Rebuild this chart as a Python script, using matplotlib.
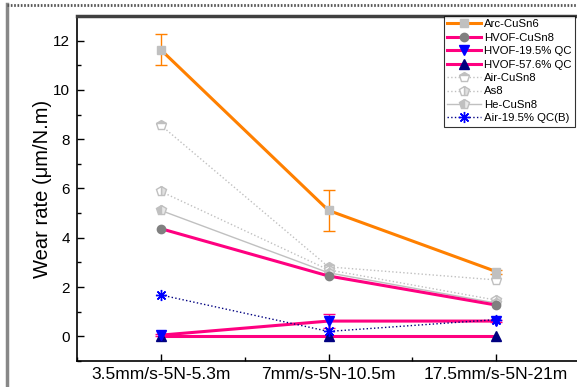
import matplotlib
matplotlib.use("Agg")
from matplotlib import pyplot as plt
from matplotlib.lines import Line2D
from matplotlib.ticker import MultipleLocator
import numpy as np

plt.rcParams['font.family'] = ['Liberation Sans', 'DejaVu Sans']

conditions = ["3.5mm/s-5N-5.3m", "7mm/s-5N-10.5m", "17.5mm/s-5N-21m"]

arc_cusn6 = [11.63, 5.11, 2.63]
arc_cusn6_err = [0.62, 0.82, 0.08]
hvof_cusn8 = [4.37, 2.45, 1.27]
hvof_qc195 = [0.05, 0.62, 0.62]
hvof_qc195_err = [0.05, 0.27, 0.05]
hvof_qc576 = [0.0, 0.0, 0.0]
air_cusn8 = [8.57, 2.82, 2.29]
as8 = [5.88, 2.7, 1.47]
he_cusn8 = [5.11, 2.58, 1.35]
air_qc195b = [1.68, 0.2, 0.68]

orange = '#FF8000'
pink = '#FF0080'
grey = '#C0C0C0'

fig = plt.figure(figsize=(5.77, 3.87), dpi=100)
ax = fig.add_axes([77/577, 26/387, 503/577, 345/387])
x = np.arange(len(conditions))

handles = []
eb = ax.errorbar(x, arc_cusn6, yerr=arc_cusn6_err, color=orange, lw=2.2, ecolor=orange,
                 elinewidth=1, capsize=4, marker='s', ms=6, mfc=grey, mec=grey, zorder=5)
handles.append((eb[0], "Arc-CuSn6"))
l, = ax.plot(x, hvof_cusn8, '-', color=pink, lw=2.2, marker='o', ms=6, mfc='grey', mec='grey', zorder=4)
handles.append((l, "HVOF-CuSn8"))
eb = ax.errorbar(x, hvof_qc195, yerr=hvof_qc195_err, color=pink, lw=2.2, ecolor=pink,
                 elinewidth=1, capsize=4, marker='v', ms=7, mfc='blue', mec='blue', zorder=4)
handles.append((eb[0], "HVOF-19.5% QC"))
l, = ax.plot(x, hvof_qc576, '-', color=pink, lw=2.2, marker='^', ms=7, mfc='#000080', mec='#000080', zorder=4)
handles.append((l, "HVOF-57.6% QC"))
l, = ax.plot(x, air_cusn8, ':', color=grey, lw=1, marker='p', ms=7, mfc=grey, mec=grey,
             fillstyle='top', markerfacecoloralt='white', zorder=3)
handles.append((l, "Air-CuSn8"))
l, = ax.plot(x, as8, ':', color=grey, lw=1, marker='p', ms=7, mfc='#E0E0E0', mec=grey,
             fillstyle='right', markerfacecoloralt='white', zorder=3)
handles.append((l, "As8"))
l, = ax.plot(x, he_cusn8, '-', color=grey, lw=1, marker='p', ms=7, mfc=grey, mec=grey,
             fillstyle='left', markerfacecoloralt='#E8E8E8', zorder=3)
handles.append((l, "He-CuSn8"))
l, = ax.plot(x, air_qc195b, ':', color='#000080', lw=1, marker=(8, 2, 0), ms=8,
             mec='blue', mew=1, zorder=6)
handles.append((l, "Air-19.5% QC(B)"))

ax.set_xlim(-0.5, 2.5)
ax.set_ylim(-1, 13)
ax.set_xticks(x)
ax.set_xticklabels(conditions)
ax.xaxis.set_minor_locator(MultipleLocator(0.5))
ax.yaxis.set_major_locator(MultipleLocator(2))
ax.yaxis.set_minor_locator(MultipleLocator(1))
ax.tick_params(axis='both', which='major', direction='in', length=5, width=1, labelsize=11, pad=5)
ax.tick_params(axis='x', which='major', labelsize=12.5, pad=4)
ax.tick_params(axis='both', which='minor', direction='in', length=3, width=1)
ax.set_ylabel("Wear rate (μm/N.m)", fontsize=14.5, labelpad=1)

ax.spines['top'].set_color('#404040')
ax.spines['top'].set_linewidth(2.5)
ax.spines['right'].set_visible(False)
for s in ['left', 'bottom']:
    ax.spines[s].set_linewidth(1.2)

leg = ax.legend([h for h, _ in handles], [t for _, t in handles],
                loc='upper right', bbox_to_anchor=(0.99, 1.0), fontsize=8.2,
                frameon=True, fancybox=False, edgecolor='black', handlelength=3.0,
                handletextpad=0.25, labelspacing=0.3, borderpad=0.3, borderaxespad=0)
leg.get_frame().set_linewidth(0.8)

# grey frame of the screenshot
fig.add_artist(Line2D([7/577, 7/577], [0, 1 - 4/387], color='#888888', lw=2.5,
                      transform=fig.transFigure))
fig.add_artist(Line2D([7/577, 1], [1 - 5/387, 1 - 5/387], color='#555555', lw=2,
                      ls=(0, (0.6, 0.6)), transform=fig.transFigure))

plt.savefig("out.png", dpi=100)
